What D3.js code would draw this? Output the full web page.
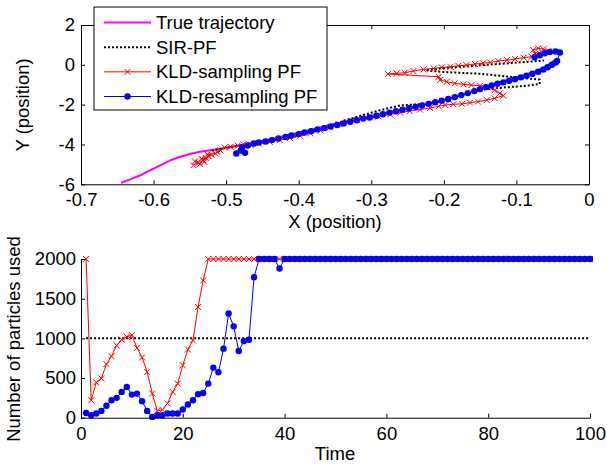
<!DOCTYPE html>
<html>
<head>
<meta charset="utf-8">
<script src="https://cdn.jsdelivr.net/npm/d3@7"></script>
<style>
  body { margin: 0; background: #fff; }
  svg { font-family: "Liberation Sans", Arial, sans-serif; }
</style>
</head>
<body>
<svg id="chart" width="607" height="466"></svg>
<script>
// ---- top panel: estimated trajectories, [x, y] in position units ----
const trueTraj = [
  [-0.645, -5.92], [-0.632, -5.75], [-0.619, -5.56], [-0.605, -5.30], [-0.591, -5.05],
  [-0.577, -4.80], [-0.564, -4.63], [-0.550, -4.48], [-0.536, -4.37], [-0.522, -4.29],
  [-0.508, -4.21], [-0.490, -4.10], [-0.470, -3.97], [-0.450, -3.82], [-0.430, -3.66],
  [-0.410, -3.49], [-0.390, -3.32], [-0.370, -3.15], [-0.350, -2.98], [-0.330, -2.80],
  [-0.310, -2.63], [-0.290, -2.48], [-0.270, -2.33], [-0.250, -2.18], [-0.230, -2.03],
  [-0.210, -1.87], [-0.190, -1.68], [-0.170, -1.45], [-0.150, -1.20], [-0.130, -0.95],
  [-0.110, -0.73], [-0.090, -0.52], [-0.070, -0.28], [-0.055, 0.02], [-0.045, 0.28]
];

const sirTraj = [
  [-0.520, -4.30], [-0.480, -4.05], [-0.440, -3.80], [-0.408, -3.64], [-0.370, -3.22],
  [-0.330, -2.72], [-0.288, -2.28], [-0.260, -2.04], [-0.230, -1.97], [-0.200, -1.80],
  [-0.180, -1.55], [-0.150, -1.26], [-0.118, -1.14], [-0.086, -1.05], [-0.068, -0.96],
  [-0.068, -0.74], [-0.104, -0.62], [-0.150, -0.45], [-0.205, -0.35], [-0.225, -0.27],
  [-0.200, -0.16], [-0.150, -0.02], [-0.110, 0.08], [-0.081, 0.16], [-0.062, 0.22]
];

const kldSamplingTraj = [
  [-0.545, -5.04], [-0.538, -4.92], [-0.543, -4.85], [-0.536, -4.99], [-0.532, -4.78],
  [-0.530, -4.88], [-0.528, -4.68], [-0.534, -4.72], [-0.524, -4.60], [-0.520, -4.52],
  [-0.526, -4.50], [-0.515, -4.45], [-0.508, -4.30], [-0.512, -4.38], [-0.502, -4.15],
  [-0.494, -4.12], [-0.484, -4.06], [-0.476, -3.99], [-0.466, -4.03],
  [-0.455, -3.95], [-0.440, -3.87], [-0.426, -3.78], [-0.412, -3.68], [-0.398, -3.56],
  [-0.384, -3.44], [-0.370, -3.30], [-0.357, -3.13], [-0.345, -2.98], [-0.334, -2.86],
  [-0.320, -2.78], [-0.306, -2.69], [-0.290, -2.60], [-0.274, -2.49], [-0.260, -2.40],
  [-0.247, -2.32], [-0.233, -2.25], [-0.219, -2.17], [-0.207, -2.08], [-0.198, -2.02],
  [-0.187, -1.98], [-0.175, -1.96], [-0.164, -1.90], [-0.153, -1.85], [-0.141, -1.77],
  [-0.130, -1.68], [-0.118, -1.55], [-0.123, -1.43], [-0.130, -1.27], [-0.139, -1.10],
  [-0.150, -1.05], [-0.162, -1.02], [-0.173, -0.98], [-0.185, -0.93], [-0.196, -0.85],
  [-0.205, -0.76], [-0.207, -0.60], [-0.277, -0.46], [-0.265, -0.43], [-0.254, -0.40],
  [-0.242, -0.31], [-0.228, -0.23], [-0.214, -0.18], [-0.203, -0.13], [-0.191, -0.10],
  [-0.180, -0.05], [-0.169, -0.01], [-0.157, 0.04], [-0.146, 0.08], [-0.136, 0.12],
  [-0.125, 0.19], [-0.113, 0.24], [-0.102, 0.29], [-0.090, 0.36], [-0.079, 0.41],
  [-0.074, 0.55], [-0.077, 0.74], [-0.070, 0.83], [-0.063, 0.79], [-0.056, 0.69]
];

const kldResamplingTraj = [
  [-0.486, -4.45], [-0.480, -4.30], [-0.474, -4.42], [-0.478, -4.15], [-0.470, -4.05],
  [-0.462, -3.95], [-0.455, -3.90], [-0.446, -3.85], [-0.437, -3.78], [-0.428, -3.70],
  [-0.418, -3.62], [-0.410, -3.55], [-0.400, -3.48], [-0.392, -3.40], [-0.383, -3.33],
  [-0.374, -3.24], [-0.365, -3.18], [-0.356, -3.10], [-0.347, -3.02], [-0.338, -2.95],
  [-0.329, -2.86], [-0.320, -2.78], [-0.311, -2.70], [-0.302, -2.64], [-0.293, -2.56],
  [-0.284, -2.48], [-0.275, -2.40], [-0.266, -2.33], [-0.257, -2.25], [-0.248, -2.18],
  [-0.239, -2.11], [-0.230, -2.04], [-0.221, -1.96], [-0.212, -1.88], [-0.203, -1.80],
  [-0.194, -1.72], [-0.185, -1.62], [-0.176, -1.52], [-0.167, -1.42], [-0.158, -1.32],
  [-0.150, -1.22], [-0.142, -1.12], [-0.134, -1.03], [-0.126, -0.95], [-0.118, -0.88],
  [-0.110, -0.80], [-0.102, -0.72], [-0.094, -0.63], [-0.086, -0.55], [-0.078, -0.45],
  [-0.070, -0.35], [-0.063, -0.24], [-0.057, -0.12], [-0.051, 0.00], [-0.046, 0.12],
  [-0.044, 0.20], [-0.040, 0.62], [-0.046, 0.67], [-0.054, 0.65], [-0.061, 0.58],
  [-0.068, 0.48], [-0.075, 0.38]
];

const xTopTicks = [-0.7, -0.6, -0.5, -0.4, -0.3, -0.2, -0.1, 0];
const xTopLabels = ["-0.7", "-0.6", "-0.5", "-0.4", "-0.3", "-0.2", "-0.1", "0"];
const yTopTicks = [-6, -4, -2, 0, 2];
const yTopLabels = ["-6", "-4", "-2", "0", "2"];

// ---- bottom panel: number of particles per time step (t = 1..100) ----
const sirCount = [
  1000, 1000, 1000, 1000, 1000, 1000, 1000, 1000, 1000, 1000,
  1000, 1000, 1000, 1000, 1000, 1000, 1000, 1000, 1000, 1000,
  1000, 1000, 1000, 1000, 1000, 1000, 1000, 1000, 1000, 1000,
  1000, 1000, 1000, 1000, 1000, 1000, 1000, 1000, 1000, 1000,
  1000, 1000, 1000, 1000, 1000, 1000, 1000, 1000, 1000, 1000,
  1000, 1000, 1000, 1000, 1000, 1000, 1000, 1000, 1000, 1000,
  1000, 1000, 1000, 1000, 1000, 1000, 1000, 1000, 1000, 1000,
  1000, 1000, 1000, 1000, 1000, 1000, 1000, 1000, 1000, 1000,
  1000, 1000, 1000, 1000, 1000, 1000, 1000, 1000, 1000, 1000,
  1000, 1000, 1000, 1000, 1000, 1000, 1000, 1000, 1000, 1000
];

const kldSamplingCount = [
  2000, 220, 445, 495, 675, 775, 910, 985, 1020, 1040,
  880, 760, 575, 305, 85, 100, 180, 325, 430, 660,
  860, 975, 1395, 1730, 2000, 2000, 2000, 2000, 2000, 2000,
  2000, 2000, 2000, 2000, 2000, 2000, 2000, 2000, 2000, 2000,
  2000, 2000, 2000, 2000, 2000, 2000, 2000, 2000, 2000, 2000,
  2000, 2000, 2000, 2000, 2000, 2000, 2000, 2000, 2000, 2000,
  2000, 2000, 2000, 2000, 2000, 2000, 2000, 2000, 2000, 2000,
  2000, 2000, 2000, 2000, 2000, 2000, 2000, 2000, 2000, 2000,
  2000, 2000, 2000, 2000, 2000, 2000, 2000, 2000, 2000, 2000,
  2000, 2000, 2000, 2000, 2000, 2000, 2000, 2000, 2000, 2000
];

const kldResamplingCount = [
  60, 30, 52, 86, 150, 220, 250, 325, 388, 291,
  304, 207, 86, 10, 31, 31, 52, 52, 52, 103,
  166, 220, 296, 312, 430, 631, 572, 870, 1314, 1151,
  840, 966, 983, 1771, 2000, 2000, 2000, 2000, 1880, 2000,
  2000, 2000, 2000, 2000, 2000, 2000, 2000, 2000, 2000, 2000,
  2000, 2000, 2000, 2000, 2000, 2000, 2000, 2000, 2000, 2000,
  2000, 2000, 2000, 2000, 2000, 2000, 2000, 2000, 2000, 2000,
  2000, 2000, 2000, 2000, 2000, 2000, 2000, 2000, 2000, 2000,
  2000, 2000, 2000, 2000, 2000, 2000, 2000, 2000, 2000, 2000,
  2000, 2000, 2000, 2000, 2000, 2000, 2000, 2000, 2000, 2000
];

const xBotTicks = [0, 20, 40, 60, 80, 100];
const yBotTicks = [0, 500, 1000, 1500, 2000];

const legendLabels = ["True trajectory", "SIR-PF", "KLD-sampling PF", "KLD-resampling PF"];

// ---- styles ----
const FONT = 18.5;
const TICK = 4;
const styles = {
  truth: { stroke: "#ff00ff", width: 2, dash: null, marker: null },
  sir:   { stroke: "#000000", width: 2, dash: "2,2", marker: null },
  kldS:  { stroke: "#ff0000", width: 1, dash: null, marker: "x" },
  kldR:  { stroke: "#0000ff", width: 1, dash: null, marker: "o" }
};

const svg = d3.select("#chart");

/**
 * Draw a polyline plus optional markers
 */
function drawSeries(g, pts, xs, ys, st) {
    const line = d3.line().x(d => xs(d[0])).y(d => ys(d[1]));
    g.append("path")
        .datum(pts)
        .attr("fill", "none")
        .attr("stroke", st.stroke)
        .attr("stroke-width", st.width)
        .attr("stroke-dasharray", st.dash)
        .attr("d", line);

    if (st.marker === "x") {
        g.selectAll(null).data(pts).enter().append("path")
            .attr("transform", d => `translate(${xs(d[0])},${ys(d[1])})`)
            .attr("d", "M-3,-3L3,3M-3,3L3,-3")
            .attr("stroke", st.stroke)
            .attr("stroke-width", 1)
            .attr("fill", "none");
    } else if (st.marker === "o") {
        g.selectAll(null).data(pts).enter().append("circle")
            .attr("cx", d => xs(d[0]))
            .attr("cy", d => ys(d[1]))
            .attr("r", 3.2)
            .attr("fill", st.stroke);
    }
}

function styleAxis(sel) {
    sel.selectAll(".domain").attr("stroke", "#000").attr("stroke-width", 1);
    sel.selectAll(".tick line").attr("stroke", "#000");
    sel.selectAll("text").attr("font-size", FONT).attr("fill", "#000")
        .attr("font-family", "Liberation Sans, Arial, sans-serif");
}

// ======== top panel ========
const xTop = d3.scaleLinear().domain([-0.7, 0]).range([81, 589]);
const yTop = d3.scaleLinear().domain([-6, 2]).range([184.3, 25]);
const topPanel = svg.append("g");

drawSeries(topPanel, trueTraj, xTop, yTop, styles.truth);
drawSeries(topPanel, sirTraj, xTop, yTop, styles.sir);
drawSeries(topPanel, kldSamplingTraj, xTop, yTop, styles.kldS);
drawSeries(topPanel, kldResamplingTraj, xTop, yTop, styles.kldR);

topPanel.append("g").attr("transform", `translate(0,${yTop.range()[0]})`)
    .call(d3.axisBottom(xTop).tickValues(xTopTicks).tickSizeInner(-TICK).tickSizeOuter(0)
        .tickPadding(9).tickFormat((d, i) => xTopLabels[i]))
    .call(styleAxis);
topPanel.append("g").attr("transform", `translate(0,${yTop.range()[1]})`)
    .call(d3.axisTop(xTop).tickValues(xTopTicks).tickSizeInner(-TICK).tickSizeOuter(0).tickFormat(""))
    .call(styleAxis);
topPanel.append("g").attr("transform", `translate(${xTop.range()[0]},0)`)
    .call(d3.axisLeft(yTop).tickValues(yTopTicks).tickSizeInner(-TICK).tickSizeOuter(0)
        .tickPadding(6).tickFormat((d, i) => yTopLabels[i]))
    .call(styleAxis);
topPanel.append("g").attr("transform", `translate(${xTop.range()[1]},0)`)
    .call(d3.axisRight(yTop).tickValues(yTopTicks).tickSizeInner(-TICK).tickSizeOuter(0).tickFormat(""))
    .call(styleAxis);

topPanel.append("text")
    .attr("x", 335).attr("y", 228)
    .attr("text-anchor", "middle").attr("font-size", FONT)
    .text("X (position)");
topPanel.append("text")
    .attr("transform", "translate(29,105) rotate(-90)")
    .attr("text-anchor", "middle").attr("font-size", FONT)
    .text("Y (position)");

// legend
const legend = topPanel.append("g");
legend.append("rect")
    .attr("x", 94).attr("y", 7).attr("width", 233).attr("height", 103)
    .attr("fill", "#fff").attr("stroke", "#000").attr("stroke-width", 1);
const legendStyles = [styles.truth, styles.sir, styles.kldS, styles.kldR];
const legendY = d3.scalePoint().domain(legendLabels).range([22.5, 96.5]);
legendLabels.forEach((lab, i) => {
    const st = legendStyles[i];
    const yy = legendY(lab);
    legend.append("line")
        .attr("x1", 104).attr("x2", 151).attr("y1", yy).attr("y2", yy)
        .attr("stroke", st.stroke).attr("stroke-width", st.width)
        .attr("stroke-dasharray", st.dash);
    if (st.marker === "x") {
        legend.append("path")
            .attr("transform", `translate(127.5,${yy})`)
            .attr("d", "M-3,-3L3,3M-3,3L3,-3")
            .attr("stroke", st.stroke).attr("fill", "none");
    } else if (st.marker === "o") {
        legend.append("circle").attr("cx", 127.5).attr("cy", yy).attr("r", 3.2).attr("fill", st.stroke);
    }
    legend.append("text")
        .attr("x", 156).attr("y", yy).attr("dy", "0.35em")
        .attr("font-size", FONT)
        .text(lab);
});

// ======== bottom panel ========
const xBot = d3.scaleLinear().domain([0, 100]).range([81, 590]);
const yBot = d3.scaleLinear().domain([0, 2000]).range([417.7, 259]);
const botPanel = svg.append("g");

const toPts = arr => arr.map((v, i) => [i + 1, v]);
drawSeries(botPanel, toPts(sirCount), xBot, yBot, styles.sir);
drawSeries(botPanel, toPts(kldSamplingCount), xBot, yBot, styles.kldS);
drawSeries(botPanel, toPts(kldResamplingCount), xBot, yBot, styles.kldR);

botPanel.append("g").attr("transform", `translate(0,${yBot.range()[0]})`)
    .call(d3.axisBottom(xBot).tickValues(xBotTicks).tickSizeInner(-TICK).tickSizeOuter(0)
        .tickPadding(9).tickFormat(d3.format("d")))
    .call(styleAxis);
botPanel.append("g").attr("transform", `translate(${xBot.range()[0]},0)`)
    .call(d3.axisLeft(yBot).tickValues(yBotTicks).tickSizeInner(-TICK).tickSizeOuter(0)
        .tickPadding(5).tickFormat(d3.format("d")))
    .call(styleAxis);

botPanel.append("text")
    .attr("x", 335).attr("y", 460)
    .attr("text-anchor", "middle").attr("font-size", FONT)
    .text("Time");
botPanel.append("text")
    .attr("transform", "translate(20,339) rotate(-90)")
    .attr("text-anchor", "middle").attr("font-size", FONT)
    .text("Number of particles used");
</script>
</body>
</html>
